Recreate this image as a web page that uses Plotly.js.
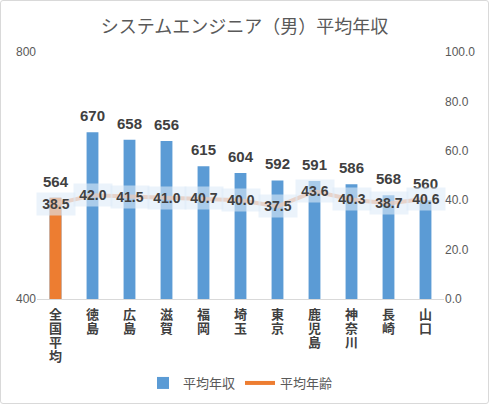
<!DOCTYPE html>
<html><head><meta charset="utf-8">
<script src="https://cdn.plot.ly/plotly-3.0.1.min.js"></script>
<style>
html,body{margin:0;padding:0;background:#fff;}
#chart{position:absolute;left:0;top:0;width:489px;height:404px;}
#frame{position:absolute;left:0;top:0;width:487px;height:402px;border:1px solid #d9d9d9;border-radius:3px;pointer-events:none;}
</style></head>
<body>
<div id="chart"></div><div id="frame"></div>
<script>
const categories = ["全国平均","徳島","広島","滋賀","福岡","埼玉","東京","鹿児島","神奈川","長崎","山口"];
const salary = [564,670,658,656,615,604,592,591,586,568,560];
const age = [38.5,42.0,41.5,41.0,40.7,40.0,37.5,43.6,40.3,38.7,40.6];
const titleText = "システムエンジニア（男）平均年収";
const salaryName = "平均年収";
const ageName = "平均年齢";

const numFont = "Liberation Sans, Arial, sans-serif";
const jpFont = "Noto Sans CJK JP, sans-serif";

const traces = [
  {type:"bar", x:categories, y:salary, name:salaryName, marker:{color:"#5B9BD5"}, width:0.32, hoverinfo:"skip"},
  {type:"bar", x:[categories[0]], y:[salary[0]], name:categories[0], marker:{color:"#ED7D31"}, width:0.32,
   showlegend:false, hoverinfo:"skip"},
  {type:"scatter", mode:"lines", x:categories, y:age, name:ageName, yaxis:"y2", showlegend:false,
   line:{color:"rgba(240,150,95,0.75)", width:4}, hoverinfo:"skip"},
  {type:"scatter", mode:"lines", x:[null], y:[null], name:ageName, yaxis:"y2",
   line:{color:"#ED7D31", width:4}, hoverinfo:"skip"}
];

const annotations = [];
categories.forEach((c,i) => {
  annotations.push({x:c, y:salary[i], xref:"x", yref:"y", text:"<b>"+salary[i]+"</b>",
    showarrow:false, yanchor:"bottom", yshift:6, font:{family:numFont, size:15, color:"#404040"}});
  annotations.push({x:c, y:age[i], xref:"x", yref:"y2", text:"<b>"+age[i].toFixed(1)+"</b>",
    showarrow:false, yanchor:"middle", xanchor:"center", width:34, height:18, borderpad:2,
    bgcolor:"rgba(221,235,248,0.6)", font:{family:numFont, size:14, color:"#404040"}});
  Array.from(c).forEach((ch,k) => {
    annotations.push({x:c, y:0, xref:"x", yref:"paper", text:"<b>"+ch+"</b>", showarrow:false,
      xanchor:"center", yanchor:"middle", yshift:-(14 + k*14),
      font:{family:jpFont, size:13, color:"#404040"}});
  });
});

const layout = {
  width:489, height:404,
  margin:{l:37, r:44.5, t:52, b:105, autoexpand:false},
  paper_bgcolor:"#ffffff", plot_bgcolor:"#ffffff",
  barmode:"overlay",
  title:{text:titleText, x:0.5, xanchor:"center", y:0.935, yanchor:"middle",
    font:{family:jpFont, size:18, color:"#595959"}},
  showlegend:true,
  legend:{orientation:"h", x:0.5, xanchor:"center", yref:"container", y:0.052, yanchor:"middle",
    font:{family:jpFont, size:13, color:"#595959"}, traceorder:"normal", itemwidth:30},
  xaxis:{type:"category", showticklabels:false,
    showline:true, linecolor:"#d9d9d9", linewidth:1, ticks:"", showgrid:false,
    range:[-0.5,10.5], fixedrange:true},
  yaxis:{range:[400,800], tickvals:[400,800], showgrid:true, gridcolor:"#d9d9d9",
    zeroline:false, showline:false, ticks:"", tickfont:{family:numFont, size:12, color:"#595959"},
    ticklen:0, automargin:false},
  yaxis2:{overlaying:"y", side:"right", range:[0,100], tickvals:[0,20,40,60,80,100],
    ticktext:["0.0","20.0","40.0","60.0","80.0","100.0"], showgrid:false, zeroline:false,
    showline:false, tickfont:{family:numFont, size:12, color:"#595959"}},
  annotations:annotations
};

Plotly.newPlot("chart", traces, layout, {displayModeBar:false, staticPlot:true});
</script>
</body></html>
